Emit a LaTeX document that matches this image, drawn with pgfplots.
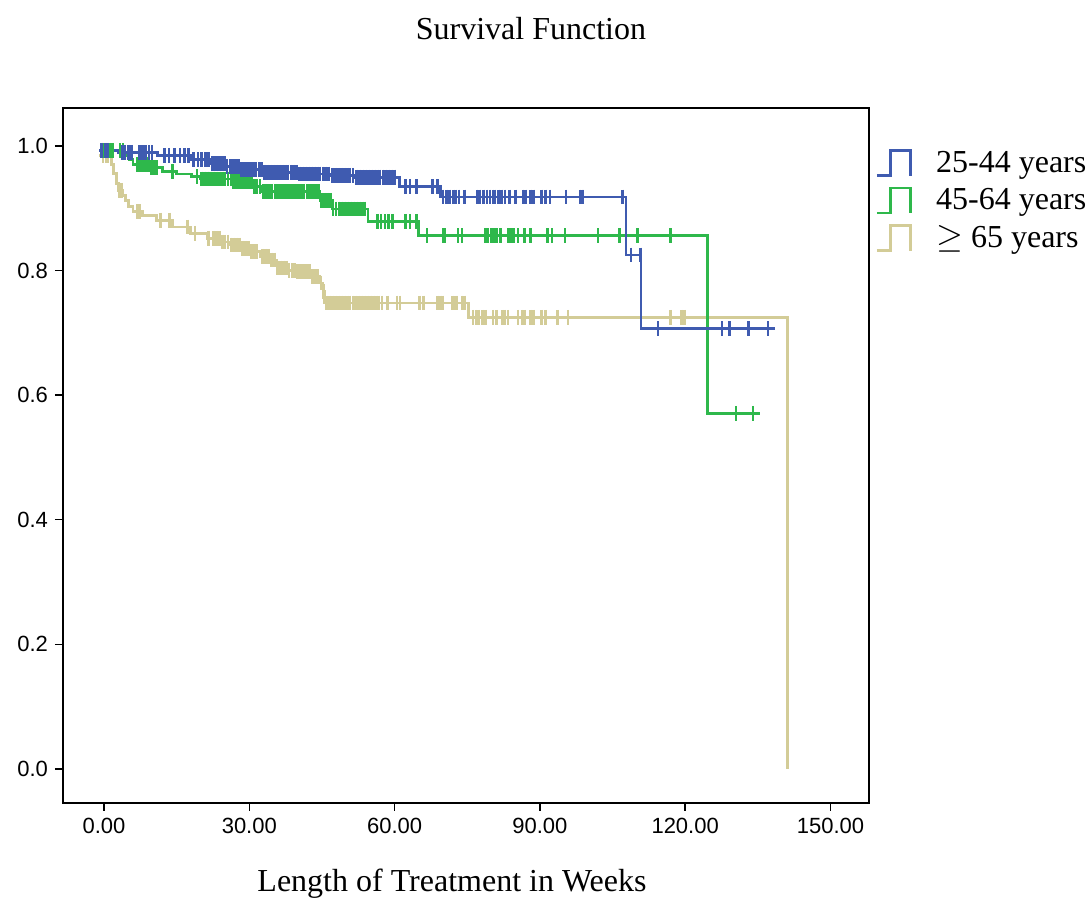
\documentclass[border=0pt]{standalone}
\usepackage{fontspec}
\setmainfont{Liberation Serif}
\newfontfamily\arial{Liberation Sans}
\usepackage{pgfplots}
\pgfplotsset{compat=1.18}
\definecolor{ageA}{HTML}{3F5BB0}
\definecolor{ageB}{HTML}{2EB84B}
\definecolor{ageC}{HTML}{D3CC97}

\begin{document}
\begin{tikzpicture}
\useasboundingbox (-31.5pt,-47.5pt) rectangle (514.5pt,401.5pt);
\begin{axis}[
  scale only axis, width=403pt, height=347.5pt,
  xmin=-8.47, xmax=157.96, ymin=-0.0546, ymax=1.061,
  xtick={0,30,...,150}, ytick={0,0.2,...,1.0},
  xtick pos=bottom, ytick pos=left, tick align=outside,
  major tick length=4pt, axis line style={line width=0.7pt},
  tick style={black, line width=0.7pt},
  xticklabel style={/pgf/number format/.cd, fixed, fixed zerofill, precision=2},
  yticklabel style={/pgf/number format/.cd, fixed, fixed zerofill, precision=1},
  /pgf/number format/assume math mode=true,
  tick label style={font=\arial\fontsize{11}{13}\selectfont},
  xlabel={Length of Treatment in Weeks},
  xlabel style={font=\fontsize{16}{18}\selectfont, at={(axis description cs:0.4826,0)}, anchor=center, yshift=-40.5pt},
  title={Survival Function},
  title style={font=\fontsize{16}{18}\selectfont, at={(axis description cs:0.5806,1)}, anchor=center, yshift=33.5pt},
  legend image code/.code={\draw[#1] (1pt,-6.25pt)--(8pt,-6.25pt)--(8pt,6.25pt)--(18pt,6.25pt)--(18pt,-6.25pt); \path (28pt,0pt);},
  legend style={draw=none, fill=none, at={(1.0,0.95)}, anchor=north west,
    font=\fontsize{16}{18}\selectfont, row sep=2.5pt},
  legend cell align=left,
  clip=false,
]
% step lines
\addplot[const plot, ageC, line width=1.4pt, forget plot] coordinates {
 (-1,0.985) (1.5,0.970) (2.0,0.956) (2.6,0.940) (3.0,0.929) (3.9,0.921) (4.5,0.912)
 (5.0,0.903) (6.0,0.895) (8.0,0.889) (10.9,0.881) (14.2,0.870) (17.8,0.860)
 (21.3,0.852) (24.0,0.846) (26.0,0.841) (28.1,0.836) (30.1,0.830) (32.2,0.823)
 (34.3,0.817) (35.7,0.804) (37.8,0.800) (39.9,0.798) (42.5,0.790) (44.6,0.780)
 (45.2,0.766) (45.6,0.748) (75.2,0.725) (141.2,0)
};
\addplot[const plot, ageB, line width=1.4pt, forget plot] coordinates {
 (-1,0.993) (4,0.985) (5.3,0.978) (6,0.970) (9.5,0.965) (12,0.959) (15,0.955)
 (18,0.951) (20,0.947) (26.6,0.943) (30.8,0.935) (32.8,0.927) (44.6,0.913)
 (47.1,0.899) (54.5,0.879) (65.0,0.856) (124.6,0.571) (135.5,0.571)
};
\addplot[const plot, ageA, line width=1.4pt, forget plot] coordinates {
 (-1,0.993) (3,0.990) (6,0.989) (11,0.985) (18,0.978) (22,0.972) (25,0.967)
 (28,0.962) (33,0.958) (40,0.955) (47,0.953) (52,0.950) (61,0.935) (69.5,0.918)
 (107.8,0.825) (110.9,0.707) (138.6,0.707)
};
% censor marks
\addplot[only marks, mark=|, mark size=3.7pt, ageC, mark options={line width=1.4pt}, forget plot] coordinates {
 (-0.2,0.985) (0.4,0.985) (0.8,0.985) (3.2,0.929) (3.7,0.929) (6.8,0.895) (7.4,0.895)
 (11.6,0.881) (13.6,0.881) (17.3,0.870) (18.8,0.860) (21.5,0.852) (22.6,0.852)
 (23.2,0.852) (23.8,0.852) (24.4,0.846) (25.0,0.846) (25.6,0.846) (26.2,0.841)
 (26.8,0.841) (27.4,0.841) (28.0,0.841) (28.6,0.836) (29.2,0.836) (29.8,0.836)
 (30.4,0.830) (31.0,0.830) (31.6,0.830) (32.8,0.823) (33.4,0.823) (34.0,0.823)
 (34.6,0.817) (35.2,0.817) (35.8,0.804) (36.4,0.804) (37.0,0.804) (37.6,0.804)
 (38.2,0.800) (38.8,0.800) (39.4,0.800) (40.0,0.798) (40.6,0.798) (41.2,0.798)
 (41.8,0.798) (42.4,0.798) (43.0,0.790) (43.6,0.790) (44.2,0.790) (44.8,0.780)
 (45.4,0.766) (46.0,0.748) (46.6,0.748) (47.2,0.748) (47.8,0.748) (48.4,0.748)
 (49.0,0.748) (49.6,0.748) (50.2,0.748) (50.8,0.748) (51.4,0.748) (52.0,0.748)
 (52.6,0.748) (53.2,0.748) (53.8,0.748) (54.4,0.748) (55.0,0.748) (55.6,0.748)
 (56.2,0.748) (56.8,0.748) (57.4,0.748) (58.6,0.748) (60.5,0.748) (61.1,0.748)
 (65.2,0.748) (65.9,0.748) (68.8,0.748) (69.4,0.748) (70.0,0.748) (71.9,0.748)
 (72.5,0.748) (72.9,0.748) (73.9,0.748) (74.5,0.748)
 (76.2,0.725) (76.8,0.725) (77.4,0.725) (78.1,0.725) (78.7,0.725) (80.3,0.725)
 (81.1,0.725) (82.2,0.725) (82.8,0.725) (83.4,0.725) (85.5,0.725) (86.3,0.725)
 (86.9,0.725) (88.0,0.725) (88.6,0.725) (90.4,0.725) (91.1,0.725) (93.7,0.725)
 (95.8,0.725) (116.9,0.725) (119.3,0.725) (119.8,0.725)
};
\addplot[only marks, mark=|, mark size=3.7pt, ageB, mark options={line width=1.4pt}, forget plot] coordinates {
 (-0.2,0.993) (0.6,0.993) (1.2,0.993) (1.8,0.993) (3.3,0.993) (3.9,0.993)
 (6.8,0.970) (7.4,0.970) (8.0,0.970) (8.6,0.970) (9.2,0.970) (9.8,0.965)
 (10.4,0.965) (10.9,0.965) (14.2,0.959) (19.2,0.951) (20.2,0.947) (20.8,0.947)
 (21.4,0.947) (22.0,0.947) (22.6,0.947) (23.2,0.947) (23.8,0.947) (24.4,0.947)
 (25.0,0.947) (25.6,0.947) (26.2,0.947) (26.8,0.943) (27.4,0.943) (28.0,0.943)
 (28.6,0.943) (29.2,0.943) (29.8,0.943) (30.4,0.943) (31.0,0.935) (31.6,0.935)
 (32.2,0.935) (32.9,0.927) (33.5,0.927) (34.1,0.927) (34.7,0.927) (35.3,0.927)
 (35.9,0.927) (36.5,0.927) (37.1,0.927) (37.7,0.927) (38.3,0.927) (38.9,0.927)
 (39.5,0.927) (40.1,0.927) (40.7,0.927) (41.3,0.927) (41.9,0.927) (42.5,0.927)
 (43.1,0.927) (43.7,0.927) (44.3,0.927) (44.9,0.913) (45.5,0.913) (46.1,0.913)
 (46.7,0.913) (47.3,0.899) (47.9,0.899) (48.5,0.899) (49.1,0.899) (49.7,0.899)
 (50.3,0.899) (50.9,0.899) (51.5,0.899) (52.1,0.899) (52.7,0.899) (53.3,0.899)
 (53.9,0.899) (56.4,0.879) (57.2,0.879) (58.0,0.879) (58.8,0.879) (59.5,0.879)
 (62.2,0.879) (63.2,0.879) (64.6,0.879)
 (66.7,0.856) (70.0,0.856) (70.4,0.856) (73.1,0.856) (73.9,0.856) (78.7,0.856)
 (79.3,0.856) (79.9,0.856) (80.5,0.856) (81.1,0.856) (81.8,0.856) (83.4,0.856)
 (84.0,0.856) (84.6,0.856) (85.5,0.856) (86.9,0.856) (88.0,0.856) (91.5,0.856)
 (92.5,0.856) (95.2,0.856) (102.0,0.856) (106.5,0.856) (110.1,0.856) (117.0,0.856)
 (130.5,0.571) (134.0,0.571)
};
\addplot[only marks, mark=|, mark size=3.7pt, ageA, mark options={line width=1.4pt}, forget plot] coordinates {
 (-0.5,0.993) (0.3,0.993) (0.8,0.993) (3.7,0.990) (4.3,0.990) (5.0,0.990)
 (5.6,0.990) (7.4,0.989) (8.0,0.989) (8.6,0.989) (9.3,0.989) (9.9,0.989)
 (12.5,0.985) (13.4,0.985) (14.6,0.985) (15.7,0.985) (16.6,0.985) (17.4,0.985)
 (18.5,0.978) (19.4,0.978) (20.2,0.978) (21.0,0.978) (21.6,0.978) (22.4,0.972)
 (23.0,0.972) (23.6,0.972) (24.3,0.972) (24.8,0.972) (25.4,0.967) (26.0,0.967)
 (26.6,0.967) (27.2,0.967) (27.8,0.967) (28.4,0.962) (29.0,0.962) (29.6,0.962)
 (30.2,0.962) (30.8,0.962) (31.4,0.962) (32.0,0.962) (32.6,0.962) (33.2,0.958)
 (33.8,0.958) (34.4,0.958) (35.0,0.958) (35.6,0.958) (36.2,0.958) (36.8,0.958)
 (37.4,0.958) (38.0,0.958) (38.6,0.958) (39.2,0.958) (39.8,0.958) (40.4,0.955)
 (41.0,0.955) (41.6,0.955) (42.2,0.955) (42.8,0.955) (43.4,0.955) (44.0,0.955)
 (44.6,0.955) (45.2,0.955) (45.8,0.955) (46.4,0.955) (47.2,0.953) (47.8,0.953)
 (48.4,0.953) (49.0,0.953) (49.6,0.953) (50.2,0.953) (50.8,0.953) (51.4,0.953)
 (52.2,0.950) (52.8,0.950) (53.4,0.950) (54.0,0.950) (54.6,0.950) (55.2,0.950)
 (55.8,0.950) (56.4,0.950) (57.0,0.950) (57.6,0.950) (58.2,0.950) (58.8,0.950)
 (59.4,0.950) (60.0,0.950) (62.2,0.935) (63.2,0.935) (64.6,0.935) (67.9,0.935)
 (68.8,0.935) (70.0,0.918) (70.8,0.918) (71.4,0.918) (72.1,0.918) (72.7,0.918)
 (73.3,0.918) (74.5,0.918) (77.0,0.918) (77.6,0.918) (78.3,0.918) (79.1,0.918)
 (79.7,0.918) (80.3,0.918) (80.7,0.918) (81.4,0.918) (82.0,0.918) (82.8,0.918)
 (83.8,0.918) (84.9,0.918) (86.5,0.918) (87.1,0.918) (88.0,0.918) (88.6,0.918)
 (90.4,0.918) (91.1,0.918) (92.1,0.918) (95.4,0.918) (98.3,0.918) (98.7,0.918)
 (98.9,0.918) (107.0,0.918) (108.8,0.825) (110.7,0.825)
 (114.4,0.707) (127.6,0.707) (129.1,0.707) (133.0,0.707) (137.1,0.707)
};
\addlegendimage{ageA, line width=1.4pt}
\addlegendentry{25-44 years}
\addlegendimage{ageB, line width=1.4pt}
\addlegendentry{45-64 years}
\addlegendimage{ageC, line width=1.4pt}
\addlegendentry{$\geq$ 65 years}
\end{axis}
\end{tikzpicture}
\end{document}
